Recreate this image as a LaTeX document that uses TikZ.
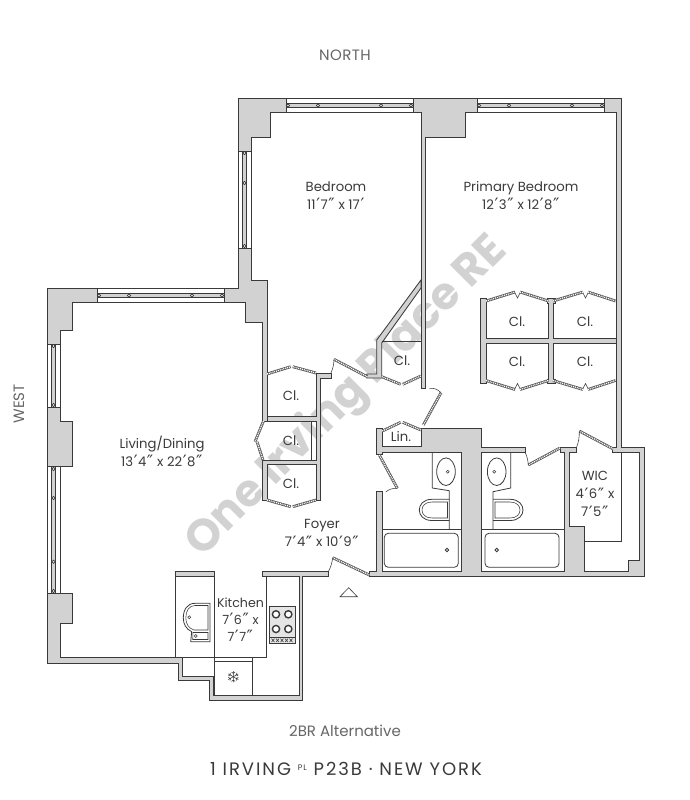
\documentclass[tikz,border=0pt]{standalone}
\usepackage{fontspec}
\setmainfont{Poppins}
\newfontfamily\primefont{DejaVu Sans}
\usepackage{xcolor}
\definecolor{wallgray}{HTML}{D2D2D2}
\definecolor{inkline}{HTML}{3A3A3A}
\definecolor{markgray}{HTML}{D2D2D2}
\newcommand{\prm}{\kern0.6pt\raisebox{-1.5pt}{\primefont\fontsize{17}{17}\selectfont ′}\kern0.4pt}
\newcommand{\dprm}{\kern0.6pt\raisebox{-1.5pt}{\primefont\fontsize{17}{17}\selectfont ″}\kern0.4pt}
\begin{document}
\begin{tikzpicture}[x=1pt,y=-1pt,
    wall/.style = {draw=inkline, fill=wallgray, line width=0.85pt, line join=miter},
    thin/.style = {draw=inkline, line width=0.8pt},
    fine/.style = {draw=inkline, line width=0.55pt},
    leaf/.style = {draw=inkline!85, line width=2.8pt, postaction={draw=white, line width=1.3pt, dash pattern=on 1pt off 0.9pt}},
    glass/.style = {draw=inkline, fill=white, line width=0.9pt},
    pane/.style = {draw=inkline, fill=wallgray, line width=0.7pt},
    stud/.style = {draw=inkline, fill=white, line width=0.7pt},
    room/.style = {text=inkline, font=\fontsize{13.2}{18}\selectfont, align=center, inner sep=0pt},
    side/.style = {text=black!60, font=\fontsize{15}{17}\selectfont, inner sep=0pt}]
  \useasboundingbox (0,0) rectangle (690,800);

  \node[rotate=45, text=markgray, inner sep=0pt, font=\fontsize{44.6}{45}\selectfont\bfseries] (mark) at (347,397) {One Irving Place RE};

  \path[wall] (47,288) -- (97,288) -- (97,302) -- (72.7,302) -- (72.7,330) -- (60,330) -- (60,421.7) -- (72.7,421.7) -- (72.7,466.7) -- (60,466.7) -- (60,593) -- (72.7,593) -- (72.7,623.3) -- (60,623.3) -- (60,657.7) -- (182.7,657.7) -- (182.7,676) -- (213.7,676) -- (213.7,695.7) -- (299.3,695.7) -- (299.3,576.7) -- (262.3,576.7) -- (262.3,571) -- (328.3,571) -- (328.3,576.7) -- (302.7,576.7) -- (302.7,700) -- (209,700) -- (209,680.7) -- (178.3,680.7) -- (178.3,663.3) -- (47,663.3) -- cycle;
  \path[wall] (238,98) -- (286,98) -- (286,112) -- (270,112) -- (270,137) -- (251,137) -- (251,280) -- (267,280) -- (267,421) -- (262.5,421) -- (262.5,322) -- (245,322) -- (245,302) -- (224,302) -- (224,288) -- (238,288) -- cycle;
  \path[wall] (267,416.7) -- (316,416.7) -- (316,373) -- (331,373) -- (331,378) -- (320.7,378) -- (320.7,500) -- (316,500) -- (316,464) -- (267,464) -- (267,500) -- (262.5,500) -- (262.5,460) -- (316,460) -- (316,421) -- (267,421) -- cycle;
  \path[wall] (376.7,340) -- (421,280) -- (421,288) -- (381.7,343) -- (381.7,378) -- (366.7,378) -- (366.7,374) -- (376.7,374) -- cycle;
  \path[wall] (413,98) -- (477,98) -- (477,112) -- (465,112) -- (465,137) -- (425,137) -- (425,388) -- (421,388) -- (421,112) -- (413,112) -- cycle;
  \path[wall] (603,98) -- (621,98) -- (621,447.3) -- (644,447.3) -- (644,576) -- (369.3,576) -- (369.3,571.7) -- (376.7,571.7) -- (376.7,491.7) -- (382.3,491.7) -- (382.3,571.7) -- (461.7,571.7) -- (461.7,452) -- (382.3,452) -- (382.3,454) -- (376.7,454) -- (376.7,428) -- (382.3,428) -- (382.3,446.7) -- (421,446.7) -- (421,428) -- (481,428) -- (481,447.3) -- (525,447.3) -- (525,452) -- (481,452) -- (481,571.7) -- (564,571.7) -- (564,452) -- (560,452) -- (560,447.3) -- (576.7,447.3) -- (576.7,452) -- (569,452) -- (569,526.7) -- (584,526.7) -- (584,571.7) -- (628.7,571.7) -- (628.7,560) -- (639,560) -- (639,452) -- (612.3,452) -- (612.3,447.3) -- (616,447.3) -- (616,112) -- (603,112) -- cycle;
  \path[wall] (480.7,298.3) -- (486,298.3) -- (486,338.3) -- (548.3,338.3) -- (548.3,303) -- (547,303) -- (547,298.3) -- (555,298.3) -- (555,303) -- (553.3,303) -- (553.3,338.3) -- (616,338.3) -- (616,343.3) -- (553.3,343.3) -- (553.3,379) -- (555,379) -- (555,383.3) -- (547,383.3) -- (547,379) -- (548.3,379) -- (548.3,343.3) -- (486,343.3) -- (486,383.3) -- (480.7,383.3) -- cycle;

  \foreach \xa/\ya in {286/98,97/288,477/98}{
    \path[glass] (\xa,\ya) rectangle +(127,14);
    \path[pane] (\xa,\ya+5.3) rectangle +(127,4.4);
    \foreach \d in {2,32,95,125}
      \path[stud] (\xa+\d,\ya+7.5) circle (1.7);
  }
  \foreach \xa/\ya/\yb in {238/151/248,47/344/407.3,47/466.7/593}{
    \path[glass] (\xa,\ya) rectangle (\xa+13,\yb);
    \path[pane] (\xa+4.4,\ya) rectangle (\xa+8.6,\yb);
  }
  \foreach \xa/\ya in {244.5/153,244.5/183,244.5/246,53.5/346,53.5/405,53.5/469,53.5/498,53.5/561.7,53.5/591}
    \path[stud] (\xa,\ya) circle (1.7);

  % closet doors
  \foreach \xa/\ya/\xb/\yb/\xc/\yc in {267/374/291.7/366.7/316/373, 267/500/291.7/506.7/316/500, 381.7/376.7/401.7/384.3/421/376, 382.3/431/401.7/422.3/421/430, 263.5/421/256/441.7/263/460}{
    \draw[leaf] (\xa,\ya) -- (\xb-1,\yb);
    \draw[leaf] (\xb+1,\yb) -- (\xc,\yc);
  }
  \foreach \xa/\ya/\m/\s in {486/301/515/-1, 553/301/583/-1, 486/380.5/515/1, 553/380.5/583/1}{
    \draw[leaf] (\xa,\ya) -- (\m,\ya+\s*9);
    \draw[leaf] (\m+5,\ya+\s*9) -- (\xa+62.5,\ya);
    \draw[fine] (\m,\ya+\s*8) -- (\m+2.5,\ya+\s*3) -- (\m+5,\ya+\s*8);
  }

  % swing doors
  \foreach \xa/\ya/\xb/\yb/\xc/\yc/\bnd in {367.3/376.7/334/359.3/331/373/10, 423.3/425/441/392.7/429.3/388.3/-25, 379.3/455/397.3/488.3/385.7/492/-20, 369.3/575/332.7/557.7/328.3/571.7/10, 560/448/528.3/465/525/452/-10, 613.3/449/579.3/431/576.7/447/10}{
    \draw[leaf] (\xa,\ya) -- (\xb,\yb);
    \draw[fine] (\xb,\yb) to[bend left=\bnd] (\xc,\yc);
  }

  \draw[thin] (381.7,341) -- (421,341);
  \draw[thin] (311.7,421) -- (311.7,460);
  \draw[thin] (621,452) -- (621,541.7) -- (584,541.7);

  % kitchen
  \path[wall] (175.7,571) rectangle (214,576.7);
  \draw[thin] (175.7,576.7) -- (175.7,657.7) -- (266.7,657.7) -- (266.7,576.7);
  \draw[thin] (214,576.7) -- (214,695.7);
  \draw[thin] (214,661.7) -- (252.3,661.7);
  \draw[thin] (252.3,657.7) -- (252.3,695.7);
  \draw[thin] (210,603.3) -- (195,603.3) .. controls (187,603.3) and (183.3,610) .. (183.3,618) .. controls (183.3,624) and (186,629) .. (191.7,631.7) -- (190.7,641.7) -- (210,641.7) -- cycle;
  \draw[fine] (208,605.5) -- (195,605.5) .. controls (189,605.5) and (185.8,611) .. (185.8,618) .. controls (185.8,624) and (189,628.5) .. (194,630) -- (208,630) -- cycle;
  \draw[fine] (193,632.5) -- (208,632.5) -- (208,639.5) -- (192.7,639.5) -- cycle;
  \draw[fine] (189.3,617.3) circle (1.5);
  \draw[fine] (195.7,636) circle (1.5);
  \path[draw=inkline, fill=black!10, line width=0.8pt] (269,606.7) rectangle (295,643.3);
  \foreach \xa/\ya in {276/614.3,288.3/614.3,276/629,288.3/629}
    \draw[inkline, line width=1.4pt, fill=white] (\xa,\ya) circle (3.6);
  \draw[thin] (269,637.3) -- (295,637.3);
  \foreach \xa in {273,277.5,282,286.5,291}
    \draw[fine] (\xa-1.5,638.6) -- (\xa+1.5,642) (\xa+1.5,638.6) -- (\xa-1.5,642);
  \foreach \a in {0,60,120}
    \draw[fine, rotate around={\a:(233.3,676.7)}] (233.3,671) -- (233.3,682.4) (231.5,672) -- (233.3,673.4) -- (235.1,672) (231.5,681.4) -- (233.3,680) -- (235.1,681.4);

  % baths
  \draw[thin] (382.3,529.3) -- (461.7,529.3);
  \draw[thin] (481,529.3) -- (564,529.3);
  \foreach \xa in {384.3,485}
    \draw[thin, rounded corners=4pt] (\xa,533.3) rectangle (\xa+74,567.3);
  \foreach \xa in {447,496.7}
    \draw[fine, line width=0.9pt] (\xa,550) circle (1.7);
  \draw[thin] (432.3,452) -- (432.3,488) -- (449.3,490.7) -- (449.3,529.3);
  \draw[thin] (510.7,452) -- (510.7,488) -- (493,491.7) -- (493,529.3);
  \foreach \xa/\dot in {446/447.7,496.7/494.3}{
    \draw[thin] (\xa,471.7) ellipse (9.3 and 13.8);
    \draw[fine] (\dot,471.7) circle (1.5);
  }
  \draw[thin] (449.3,499.3) -- (432,499.3) .. controls (423,499.3) and (419.3,505) .. (419.3,510) .. controls (419.3,515) and (423,520.5) .. (432,520.5) -- (449.3,520.5);
  \draw[fine] (447.5,502) -- (432,502) .. controls (425,502) and (422,506) .. (422,510) .. controls (422,514) and (425,518) .. (432,518) -- (447.5,518) -- cycle;
  \draw[thin] (493,499.3) -- (510,499.3) .. controls (519,499.3) and (523,505) .. (523,510) .. controls (523,515) and (519,520.5) .. (510,520.5) -- (493,520.5);
  \draw[fine] (495,502) -- (510,502) .. controls (517,502) and (520,506) .. (520,510) .. controls (520,514) and (517,518) .. (510,518) -- (495,518) -- cycle;

  \path[draw=inkline, fill=white, line width=0.6pt] (340,596.7) -- (357.3,596.7) -- (348.7,587.7) -- cycle;

  \node[room] (bedroom) at (336,196) {Bedroom\\11\prm7\dprm{} x 17\prm};
  \node[room] (primary) at (521,196) {Primary Bedroom\\12\prm3\dprm{} x 12\prm8\dprm};
  \node[room] (living) at (162,452) {Living/Dining\\13\prm4\dprm{} x 22\prm8\dprm};
  \node[room] (foyer) at (322,534) {Foyer\\7\prm4\dprm{} x 10\prm9\dprm};
  \node[room, font=\fontsize{12.6}{17}\selectfont] (kitchen) at (240.5,620) {Kitchen\\7\prm6\dprm{} x\\7\prm7\dprm};
  \node[room] (wic) at (595,495) {WIC\\4\prm6\dprm{} x\\7\prm5\dprm};
  \node[room] (cla) at (291,396) {Cl.};
  \node[room] (clb) at (291,441) {Cl.};
  \node[room] (clc) at (291,484) {Cl.};
  \node[room] (cld) at (402,361) {Cl.};
  \node[room] (lin) at (401,437) {Lin.};
  \node[room] (cle) at (517,322) {Cl.};
  \node[room] (clf) at (585,322) {Cl.};
  \node[room] (clg) at (517,362) {Cl.};
  \node[room] (clh) at (585,362) {Cl.};

  \node[side] (north) at (345,55) {\addfontfeature{LetterSpace=3}NORTH};
  \node[side, rotate=90] (west) at (19,404) {WEST};
  \node[side] (plan) at (345,731) {2BR Alternative};
  \node[text=inkline, inner sep=0pt, font=\fontsize{18}{20}\selectfont\addfontfeature{LetterSpace=11}] (title) at (346,769) {1 IRVING \raisebox{5pt}{\fontsize{8}{8}\selectfont PL} P23B · NEW YORK};
\end{tikzpicture}
\end{document}
